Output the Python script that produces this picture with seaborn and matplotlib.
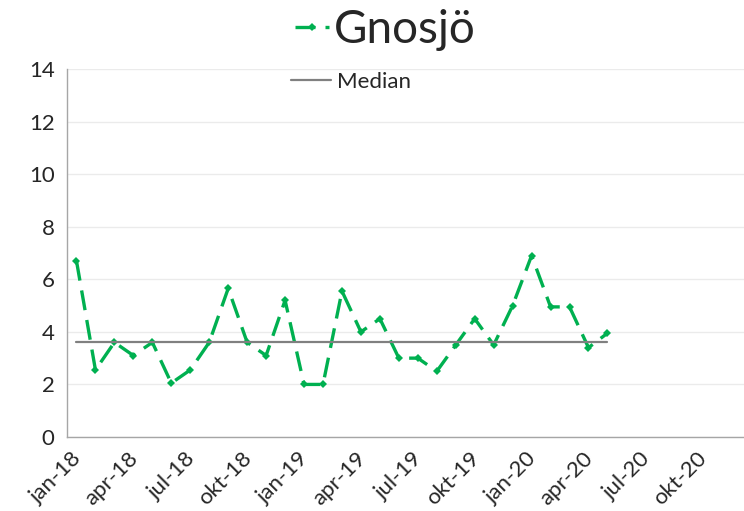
import numpy as np
import pandas as pd
import matplotlib
matplotlib.use("Agg")
import matplotlib.pyplot as plt
import matplotlib.transforms as mtransforms
import seaborn as sns

# -------------------------
# Data (monthly, jan-18 .. may-20)
# -------------------------
months = ["jan-18", "feb-18", "mar-18", "apr-18", "maj-18", "jun-18", "jul-18", "aug-18",
          "sep-18", "okt-18", "nov-18", "dec-18", "jan-19", "feb-19", "mar-19", "apr-19",
          "maj-19", "jun-19", "jul-19", "aug-19", "sep-19", "okt-19", "nov-19", "dec-19",
          "jan-20", "feb-20", "mar-20", "apr-20", "maj-20"]
values = [6.7, 2.55, 3.6, 3.1, 3.6, 2.05, 2.55, 3.6, 5.65, 3.6, 3.1, 5.2, 2.0, 2.0,
          5.55, 4.0, 4.5, 3.0, 3.0, 2.5, 3.5, 4.5, 3.5, 5.0, 6.9, 4.95, 4.95, 3.4, 3.95]
tick_labels = ["jan-18", "apr-18", "jul-18", "okt-18", "jan-19", "apr-19",
               "jul-19", "okt-19", "jan-20", "apr-20", "jul-20", "okt-20"]

df = pd.DataFrame({"month": months, "value": values})
df["pos"] = np.arange(len(df)) + 0.5          # points sit between month ticks
df["median"] = np.median(df["value"])

# -------------------------
# Style
# -------------------------
sns.set_style("white")
plt.rcParams["font.family"] = ["Lato", "DejaVu Sans"]

fig = plt.figure(figsize=(7.44, 5.11), dpi=100)
ax = fig.add_axes([67 / 744, 74 / 511, (744 - 67) / 744, 368 / 511])

green = "#00B050"
grey = "#808080"

sns.lineplot(data=df, x="pos", y="value", ax=ax, color=green, lw=2.4,
             dashes=False, marker="D", markersize=4.5, markeredgewidth=0,
             label="Gnosjö")
ax.lines[-1].set_dashes([6, 3])
sns.lineplot(data=df, x="pos", y="median", ax=ax, color=grey, lw=1.6,
             label="Median")

# -------------------------
# Axes
# -------------------------
ax.set_xlim(0, 35.7)
ax.set_ylim(0, 14)
ax.set_yticks(range(0, 15, 2))
ax.set_xticks(np.arange(0, 36, 3))
ax.set_xticklabels(tick_labels, rotation=45, ha="right", va="center",
                   rotation_mode="anchor")
ax.tick_params(axis="both", labelsize=16, length=5, width=1, color="#A6A6A6", pad=4)
ax.tick_params(axis="x", pad=8)
# shift rotated labels a little to the right, like Excel does
shift = mtransforms.ScaledTranslation(11 / 100, 0, fig.dpi_scale_trans)
for lab in ax.get_xticklabels():
    lab.set_transform(lab.get_transform() + shift)
ax.yaxis.grid(True, color="#EBEBEB", lw=1)
ax.set_axisbelow(True)
for s in ["top", "right"]:
    ax.spines[s].set_visible(False)
for s in ["left", "bottom"]:
    ax.spines[s].set_color("#A6A6A6")
    ax.spines[s].set_linewidth(1)
ax.set_xlabel("")
ax.set_ylabel("")

# -------------------------
# Legends: series as title, median inside plot
# -------------------------
h, l = ax.get_legend_handles_labels()
ax.get_legend().remove()
leg1 = fig.legend([h[0]], [l[0]], loc="center", bbox_to_anchor=(385 / 744, 1 - 30 / 511),
                  frameon=False, fontsize=33, handlelength=0.75, handletextpad=0.1,
                  borderpad=0)
leg2 = ax.legend([h[1]], [l[1]], loc="center", bbox_to_anchor=(351 / 744, 1 - 82 / 511),
                 bbox_transform=fig.transFigure, frameon=False, fontsize=16,
                 handlelength=1.8, handletextpad=0.3, borderpad=0)

fig.savefig("out.png", dpi=100)
